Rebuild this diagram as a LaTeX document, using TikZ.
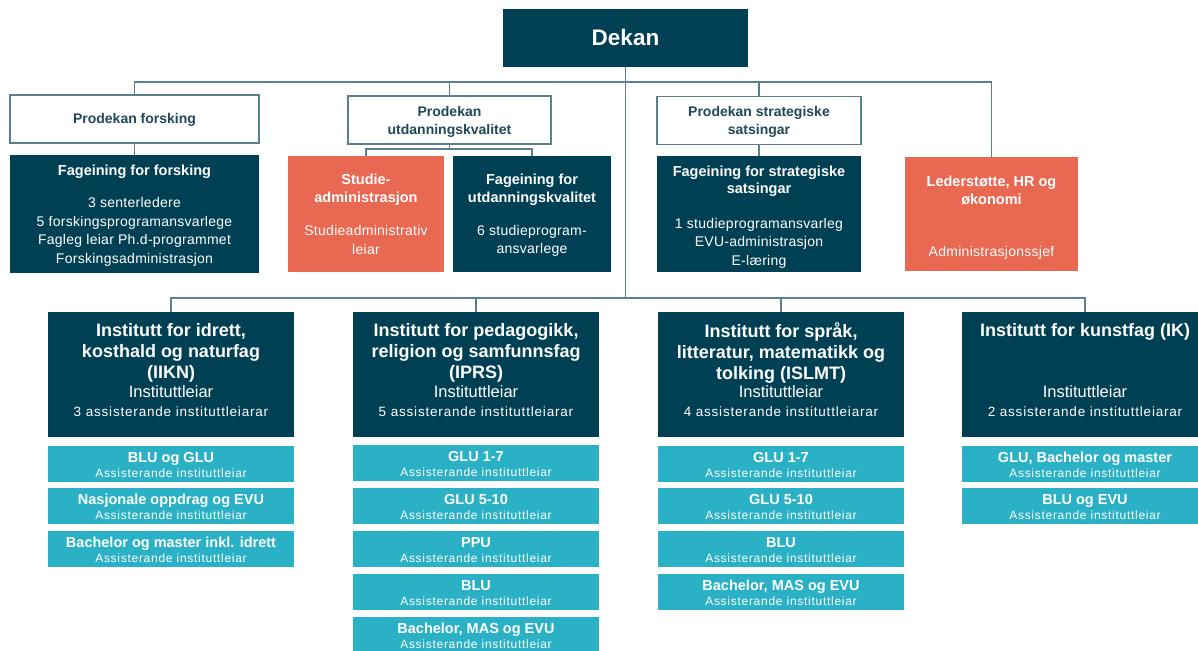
\documentclass[tikz,border=0pt]{standalone}
\usepackage{fontspec}
\setmainfont{Liberation Sans}
\newfontfamily\lsa{Liberation Sans}[LetterSpace=2]
\newfontfamily\lsb{Liberation Sans}[LetterSpace=6]
\usetikzlibrary{calc}
\definecolor{dkc}{RGB}{0,64,84}
\definecolor{coc}{RGB}{233,104,82}
\definecolor{ltc}{RGB}{43,177,198}
\definecolor{lnc}{RGB}{90,128,142}
\definecolor{ptc}{RGB}{32,72,88}
\newcommand\mysub[4]{%
  \node[lt] (#1) at (#2,#3) {};
  \node[wt, anchor=base, font=\bfseries\fontsize{14.5}{16}\selectfont] (#1t) at (#2,#3-1.5) {#4};
  \node[wt, anchor=base, font=\lsb\fontsize{12}{14}\selectfont] (#1s) at (#2,#3+13.5) {Assisterande instituttleiar};
}
\begin{document}
\begin{tikzpicture}[x=1pt,y=-1pt,
  box/.style={inner sep=0pt, outer sep=0pt, anchor=center},
  dk/.style={box, fill=dkc},
  co/.style={box, fill=coc},
  lt/.style={box, fill=ltc, minimum width=246pt, minimum height=36pt},
  pd/.style={box, draw=lnc, line width=1.3pt, fill=white, minimum height=48pt},
  inst/.style={dk, minimum width=246pt, minimum height=125pt},
  wt/.style={text=white, align=center, inner sep=0pt, outer sep=0pt},
  ptx/.style={text=ptc, align=center, inner sep=0pt, outer sep=0pt, font=\bfseries\fontsize{14}{18}\selectfont},
  ttl/.style={wt, font=\bfseries\fontsize{14.5}{17.5}\selectfont},
  bdy/.style={wt, font=\lsa\fontsize{14}{18.5}\selectfont},
  ititle/.style={wt, font=\bfseries\fontsize{18}{21}\selectfont},
  ilead/.style={wt, anchor=base, font=\fontsize{16.5}{19}\selectfont},
  iass/.style={wt, anchor=base, font=\lsb\fontsize{13.5}{16}\selectfont},
  conn/.style={draw=lnc, line width=1.2pt}]
\clip (0,0) rectangle (1198,650);
\fill[white] (0,0) rectangle (1198,650);
\coordinate (tb) at (0,82);
\coordinate (ub) at (0,149);
\coordinate (ib) at (0,298);

% top
\node[dk, minimum width=245pt, minimum height=58pt] (dekan) at (625.5,38) {};
\node[wt, anchor=base, font=\bfseries\fontsize{22.5}{26}\selectfont] (dekant) at (625.5,46) {Dekan};

\node[pd, minimum width=249pt] (p1) at (134.5,119) {};
\node[ptx, anchor=base] (p1t) at (134.5,124) {Prodekan forsking};
\node[pd, minimum width=203pt] (p2) at (449.5,120) {};
\node[ptx] (p2t) at (449.5,121.5) {Prodekan\\utdanningskvalitet};
\node[pd, minimum width=204pt] (p3) at (759,120.5) {};
\node[ptx] (p3t) at (759,121.5) {Prodekan strategiske\\satsingar};

% second row
\node[dk, minimum width=249pt, minimum height=118pt] (f1) at (134.5,214) {};
\node[ttl, anchor=base] (f1t) at (134.5,175) {Fageining for forsking};
\node[bdy] (f1b) at (134.5,232) {3 senterledere\\5 forskingsprogramansvarlege\\Fagleg leiar Ph.d-programmet\\Forskingsadministrasjon};

\node[co, minimum width=156pt, minimum height=116pt] (sa) at (366,214) {};
\node[ttl] (sat) at (366,190) {Studie-\\administrasjon};
\node[bdy] (sab) at (366,240) {Studieadministrativ\\leiar};

\node[dk, minimum width=158pt, minimum height=116pt] (f2) at (532,214) {};
\node[ttl] (f2t) at (532,190) {Fageining for\\utdanningskvalitet};
\node[bdy] (f2b) at (532,241) {6 studieprogram-\\ansvarlege};

\node[dk, minimum width=204pt, minimum height=116pt] (f3) at (759,214) {};
\node[ttl] (f3t) at (759,181.5) {Fageining for strategiske\\satsingar};
\node[bdy] (f3b) at (759,243) {1 studieprogramansvarleg\\EVU-administrasjon\\E-læring};

\node[co, minimum width=173pt, minimum height=114pt] (ld) at (991.5,214) {};
\node[ttl] (ldt) at (991.5,190.5) {Lederstøtte, HR og\\økonomi};
\node[bdy, anchor=base] (ldb) at (991.5,256) {Administrasjonssjef};

% institutes
\node[inst] (i1) at (171,374.5) {};
\node[ititle] (i1t) at (171,353) {Institutt for idrett,\\kosthald og naturfag\\(IIKN)};
\node[ilead] (i1l) at (171,397.5) {Instituttleiar};
\node[iass] (i1a) at (171,416.5) {3 assisterande instituttleiarar};

\node[inst] (i2) at (476,374.5) {};
\node[ititle] (i2t) at (476,353) {Institutt for pedagogikk,\\religion og samfunnsfag\\(IPRS)};
\node[ilead] (i2l) at (476,397.5) {Instituttleiar};
\node[iass] (i2a) at (476,416.5) {5 assisterande instituttleiarar};

\node[inst] (i3) at (781,374.5) {};
\node[ititle] (i3t) at (781,353) {Institutt for språk,\\litteratur, matematikk og\\tolking (ISLMT)};
\node[ilead] (i3l) at (781,397.5) {Instituttleiar};
\node[iass] (i3a) at (781,416.5) {4 assisterande instituttleiarar};

\node[inst] (i4) at (1085,374.5) {};
\node[ititle, anchor=base] (i4t) at (1085,336.5) {Institutt for kunstfag (IK)};
\node[ilead] (i4l) at (1085,397.5) {Instituttleiar};
\node[iass] (i4a) at (1085,416.5) {2 assisterande instituttleiarar};

% sub boxes
\mysub{a1}{171}{463.5}{BLU og GLU}
\mysub{a2}{171}{506}{Nasjonale oppdrag og EVU}
\mysub{a3}{171}{548.5}{Bachelor og master inkl. idrett}

\mysub{b1}{476}{463}{GLU 1-7}
\mysub{b2}{476}{506}{GLU 5-10}
\mysub{b3}{476}{548.5}{PPU}
\mysub{b4}{476}{591.5}{BLU}
\mysub{b5}{476}{634.5}{Bachelor, MAS og EVU}

\mysub{c1}{781}{463.5}{GLU 1-7}
\mysub{c2}{781}{506}{GLU 5-10}
\mysub{c3}{781}{549}{BLU}
\mysub{c4}{781}{592}{Bachelor, MAS og EVU}

\mysub{d1}{1085}{463.5}{GLU, Bachelor og master}
\mysub{d2}{1085}{505.5}{BLU og EVU}

% connectors
\draw[conn] (dekan.south) -- (dekan.south |- ib);
\draw[conn] (p1.north) -- (p1.north |- tb) -- (ld.north |- tb) -- (ld.north);
\draw[conn] (p2.north) -- (p2.north |- tb);
\draw[conn] (p3.north) -- (p3.north |- tb);
\draw[conn] (p1.south) -- (f1.north);
\draw[conn] (p3.south) -- (f3.north);
\draw[conn] (p2.south) -- (p2.south |- ub);
\draw[conn] (sa.north) -- (sa.north |- ub) -- (f2.north |- ub) -- (f2.north);
\draw[conn] (i1.north) -- (i1.north |- ib) -- (i4.north |- ib) -- (i4.north);
\draw[conn] (i2.north) -- (i2.north |- ib);
\draw[conn] (i3.north) -- (i3.north |- ib);
\end{tikzpicture}
\end{document}
